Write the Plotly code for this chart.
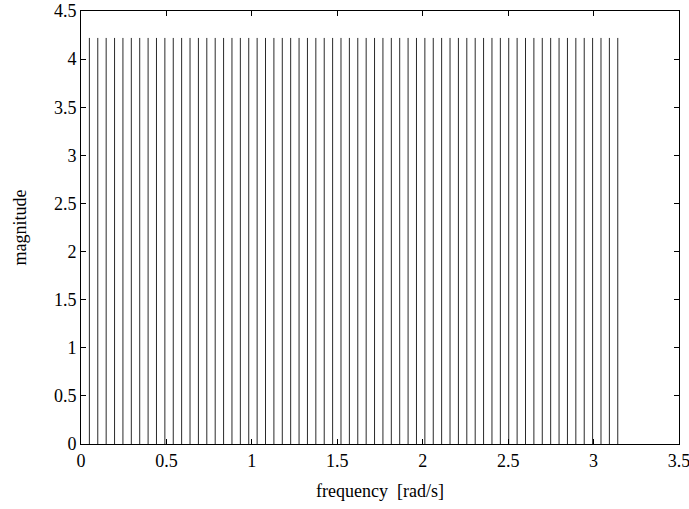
import numpy as np
import plotly.graph_objects as go

# Line-spectrum: 64 harmonics at k*pi/64 rad/s, all of equal magnitude
freq = [k * np.pi / 64 for k in range(1, 65)]
magnitude = [4.22] * 64

x_ticks = [0, 0.5, 1, 1.5, 2, 2.5, 3, 3.5]
x_tick_text = ["0", "0.5", "1", "1.5", "2", "2.5", "3", "3.5"]
y_ticks = [0, 0.5, 1, 1.5, 2, 2.5, 3, 3.5, 4, 4.5]
y_tick_text = ["0", "0.5", "1", "1.5", "2", "2.5", "3", "3.5", "4", "4.5"]

# vertical stems from zero up to each magnitude, joined in one trace
xs, ys = [], []
for f, m in zip(freq, magnitude):
    xs += [f, f, None]
    ys += [0, m, None]

fig = go.Figure()
fig.add_trace(go.Scatter(
    x=xs, y=ys, mode="lines",
    line=dict(color="#2a2a2a", width=1),
    hoverinfo="skip", showlegend=False,
))

font = dict(family="Liberation Serif", size=18, color="black")
axis_common = dict(
    showgrid=False, zeroline=False, showline=True, linecolor="black", linewidth=1,
    mirror="allticks", ticks="inside", ticklen=5, tickcolor="black", tickwidth=1,
    tickfont=font, automargin=False, ticklabeloverflow="allow",
)

fig.update_layout(
    width=689, height=509,
    margin=dict(l=81, r=10, t=11, b=65),
    paper_bgcolor="white", plot_bgcolor="white",
    font=font,
    xaxis=dict(range=[0, 3.5], tickvals=x_ticks, ticktext=x_tick_text,
               title=dict(text="frequency  [rad/s]", font=font, standoff=14),
               **axis_common),
    yaxis=dict(range=[0, 4.5], tickvals=y_ticks, ticktext=y_tick_text,
               title=dict(text="magnitude", font=font, standoff=22),
               **axis_common),
)

fig.write_html("out.html")
